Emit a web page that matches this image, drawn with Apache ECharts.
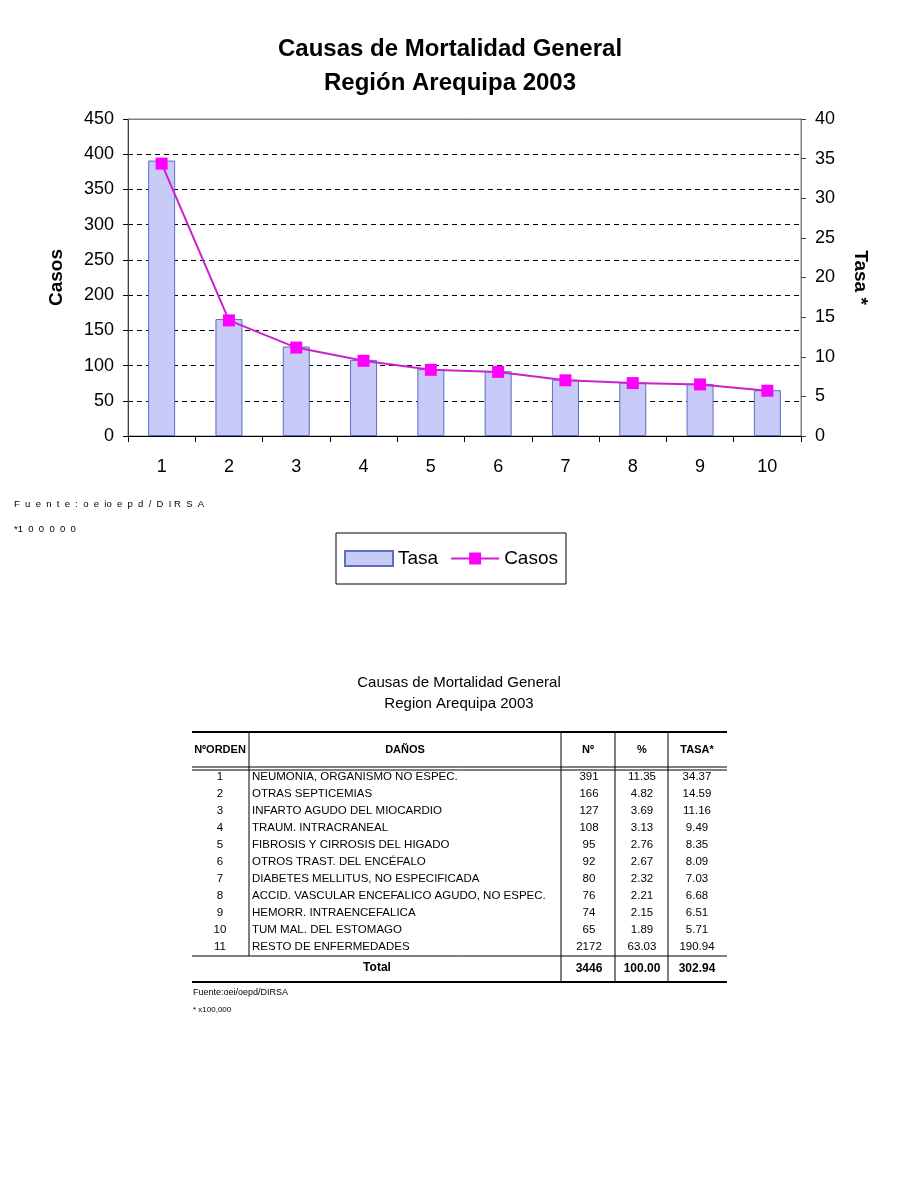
<!DOCTYPE html>
<html>
<head>
<meta charset="utf-8">
<script src="https://cdn.jsdelivr.net/npm/echarts@6/dist/echarts.min.js"></script>
<style>
html,body{margin:0;padding:0;background:#fff;}
#chart{width:900px;height:1200px;}
</style>
</head>
<body>
<div id="chart"></div>
<script>
// ---- data ----
var categories = ['1','2','3','4','5','6','7','8','9','10'];
var ordenes = ['1','2','3','4','5','6','7','8','9','10','11'];
var danos = [
  'NEUMONIA, ORGANISMO NO ESPEC.',
  'OTRAS SEPTICEMIAS',
  'INFARTO AGUDO DEL MIOCARDIO',
  'TRAUM. INTRACRANEAL',
  'FIBROSIS Y CIRROSIS DEL HIGADO',
  'OTROS TRAST. DEL ENCÉFALO',
  'DIABETES MELLITUS, NO ESPECIFICADA',
  'ACCID. VASCULAR ENCEFALICO AGUDO, NO ESPEC.',
  'HEMORR. INTRAENCEFALICA',
  'TUM MAL. DEL ESTOMAGO',
  'RESTO DE ENFERMEDADES'
];
var numeros = ['391','166','127','108','95','92','80','76','74','65','2172'];
var porcentajes = ['11.35','4.82','3.69','3.13','2.76','2.67','2.32','2.21','2.15','1.89','63.03'];
var tasas = ['34.37','14.59','11.16','9.49','8.35','8.09','7.03','6.68','6.51','5.71','190.94'];
var totales = ['3446','100.00','302.94'];
var headers = ['NºORDEN','DAÑOS','Nº','%','TASA*'];

var casosSerie = numeros.slice(0,10).map(Number);
var tasaSerie = tasas.slice(0,10).map(Number);

// ---- table graphics ----
var F = 'Arial, "Liberation Sans", sans-serif';
var g = [];
function txt(x,y,s,opt){
  opt = opt||{};
  g.push({type:'text', style:{x:x,y:y,text:s,fill:'#000',
    font:(opt.bold?'bold ':'')+(opt.size||11.5)+'px '+F,
    textAlign:opt.align||'center', textVerticalAlign:'middle'}});
}
function ln(x1,y1,x2,y2,w){
  g.push({type:'line', shape:{x1:x1,y1:y1,x2:x2,y2:y2}, style:{stroke:'#000',lineWidth:w||1}});
}
// chart notes
txt(14,504,'F  u  e  n  t  e  :  o  e  io  e  p  d  /  D  I R  S  A',{align:'left',size:9.5});
txt(14,529,'*1  0  0  0  0  0',{align:'left',size:9.5});
// table title
txt(459,683,'Causas de Mortalidad General',{size:15});
txt(459,704,'Region Arequipa 2003',{size:15});
// table lines
var L=192,R=727;
ln(L,732,R,732,2);
ln(L,767,R,767,1);
ln(L,770,R,770,1);
ln(L,956,R,956,1);
ln(L,982,R,982,2);
ln(249,733,249,956,1);
[561,615,668].forEach(function(x){ ln(x,733,x,981,1); });
// header
var hx=[220,405,588,642,697];
headers.forEach(function(h,i){ txt(hx[i],750,h,{bold:true,size:11}); });
// rows
for (var i=0;i<ordenes.length;i++){
  var y = 777 + 17*i;
  txt(220,y,ordenes[i]);
  txt(252,y,danos[i],{align:'left'});
  txt(589,y,numeros[i]);
  txt(642,y,porcentajes[i]);
  txt(697,y,tasas[i]);
}
txt(377,968,'Total',{bold:true,size:12});
txt(589,969,totales[0],{bold:true,size:12});
txt(642,969,totales[1],{bold:true,size:12});
txt(697,969,totales[2],{bold:true,size:12});
txt(193,993,'Fuente:oei/oepd/DIRSA',{align:'left',size:9});
txt(193,1010,'* x100,000',{align:'left',size:8});

var chart = echarts.init(document.getElementById('chart'));
chart.setOption({
  animation:false,
  backgroundColor:'#fff',
  textStyle:{fontFamily:F},
  title:{
    text:'Causas de Mortalidad General\nRegión Arequipa 2003',
    left:'center', top:27,
    textStyle:{fontSize:24,fontWeight:'bold',color:'#000',lineHeight:34,fontFamily:F}
  },
  legend:{
    left:336, top:533,
    borderColor:'#000', borderWidth:1,
    padding:[16,8,16,8],
    itemWidth:48, itemHeight:15, itemGap:12,
    textStyle:{fontSize:19,color:'#000',fontFamily:F},
    data:[{name:'Tasa',icon:'rect'},{name:'Casos'}]
  },
  grid:{left:128,right:99,top:119,bottom:764,show:true,borderColor:'#808080',borderWidth:1,backgroundColor:'transparent'},
  xAxis:{
    type:'category', data:categories,
    axisLine:{lineStyle:{color:'#000',width:1}},
    axisTick:{show:true,length:6,lineStyle:{color:'#000'}},
    axisLabel:{fontSize:18,color:'#000',margin:22,fontFamily:F}
  },
  yAxis:[
    {type:'value',min:0,max:450,interval:50,name:'Casos',nameLocation:'middle',nameGap:62,
      nameTextStyle:{fontSize:19,fontWeight:'bold',color:'#000',fontFamily:F},
      axisLine:{show:true,lineStyle:{color:'#404040'}},
      axisTick:{show:true,length:5,lineStyle:{color:'#000'}},
      axisLabel:{fontSize:18,color:'#000',margin:14,fontFamily:F},
      splitLine:{show:true,lineStyle:{color:'#000',type:[5,4],width:1}}},
    {type:'value',min:0,max:40,interval:5,name:'Tasa *',nameLocation:'middle',nameGap:50,nameRotate:-90,
      nameTextStyle:{fontSize:19,fontWeight:'bold',color:'#000',fontFamily:F},
      axisLine:{show:true,lineStyle:{color:'#808080'}},
      axisTick:{show:true,length:5,lineStyle:{color:'#404040'}},
      axisLabel:{fontSize:18,color:'#000',margin:14,fontFamily:F},
      splitLine:{show:false}}
  ],
  series:[
    {name:'Tasa',type:'bar',yAxisIndex:0,data:casosSerie,barWidth:27,
      itemStyle:{color:'#c8caf8',borderColor:'#5a6fbe',borderWidth:1},
      markLine:{silent:true,symbol:'none',label:{show:false},
        lineStyle:{color:'#808080',type:'solid',width:1},data:[{yAxis:450}]}},
    {name:'Casos',type:'line',yAxisIndex:1,data:tasaSerie,
      symbol:'rect',symbolSize:12,
      lineStyle:{color:'#cc22cc',width:2},
      itemStyle:{color:'#ff00ff'}}
  ],
  graphic:g
});
</script>
</body>
</html>
